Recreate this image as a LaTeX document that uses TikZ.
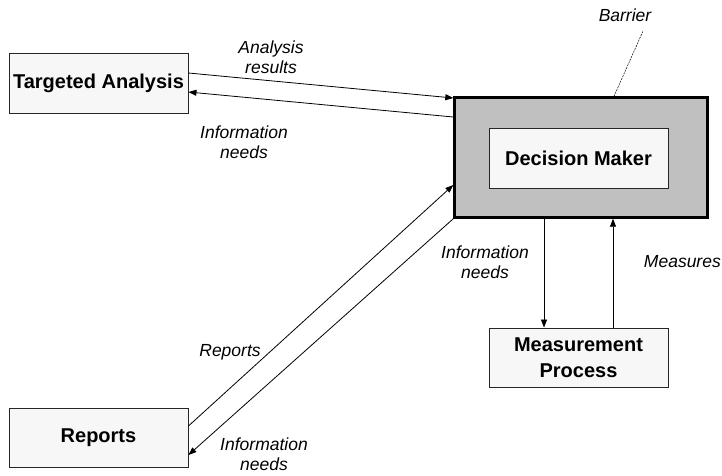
\documentclass[tikz,border=0pt]{standalone}
\usepackage{fontspec}
\setmainfont{Liberation Sans}
\usetikzlibrary{arrows.meta,calc}
\definecolor{barriergray}{RGB}{192,192,192}
\definecolor{boxfill}{RGB}{247,247,247}
\tikzset{
  box/.style={draw=black!85, line width=0.9pt, fill=boxfill, minimum width=179pt, minimum height=60pt, inner sep=0pt, align=center, font=\fontsize{20}{26}\selectfont\bfseries},
  barrier/.style={draw=black, line width=2.4pt, fill=barriergray, minimum width=253pt, minimum height=120pt, inner sep=0pt},
  lbl/.style={font=\fontsize{17.5}{20.5}\selectfont\itshape, align=center, inner sep=0pt},
  flow/.style={-{Triangle[length=8pt,width=6pt]}, line width=0.8pt},
}
\begin{document}
\begin{tikzpicture}[x=1pt,y=1pt]
\useasboundingbox (0,0) rectangle (722,-475);
\node[barrier] (dm) at (581,-157.5) {};
\node[box] (inner) at (578.5,-158) {Decision Maker};
\node[box] (ta) at (98.5,-83) {Targeted Analysis};
\node[box, minimum height=59pt] (mp) at (578.5,-357.5) {Measurement\\Process};
\node[box, minimum height=59pt] (rep) at (98.5,-437.5) {Reports};

\node[lbl] (barlbl) at (625,-15) {Barrier};
\coordinate (barend) at (643,-31);
\draw[line width=0.5pt, dash pattern=on 2pt off 1pt] ([xshift=33]dm.north) -- (barend);

\draw[flow] ([yshift=10]ta.east) -- ([yshift=59.5]dm.west);
\draw[flow] ([yshift=40.5]dm.west) -- ([yshift=-9]ta.east);
\draw[flow] ([yshift=11.5]rep.east) -- ([yshift=-27.5]dm.west);
\draw[flow] (dm.south west) -- ([yshift=-17.5]rep.east);
\draw[flow] ([xshift=-37]dm.south) -- ([xshift=-37]dm.south |- mp.north);
\draw[flow] ([xshift=34.5]mp.north) -- ([xshift=34.5]mp.north |- dm.south);

\node[lbl] (l1) at (271,-57) {Analysis\\results};
\node[lbl] (l2) at (244,-142) {Information\\needs};
\node[lbl] (l3) at (485,-262) {Information\\needs};
\node[lbl, anchor=east] (l4) at (721,-262) {Measures};
\node[lbl] (l5) at (230,-352) {Reports};
\node[lbl] (l6) at (264,-454) {Information\\needs};
\end{tikzpicture}
\end{document}
